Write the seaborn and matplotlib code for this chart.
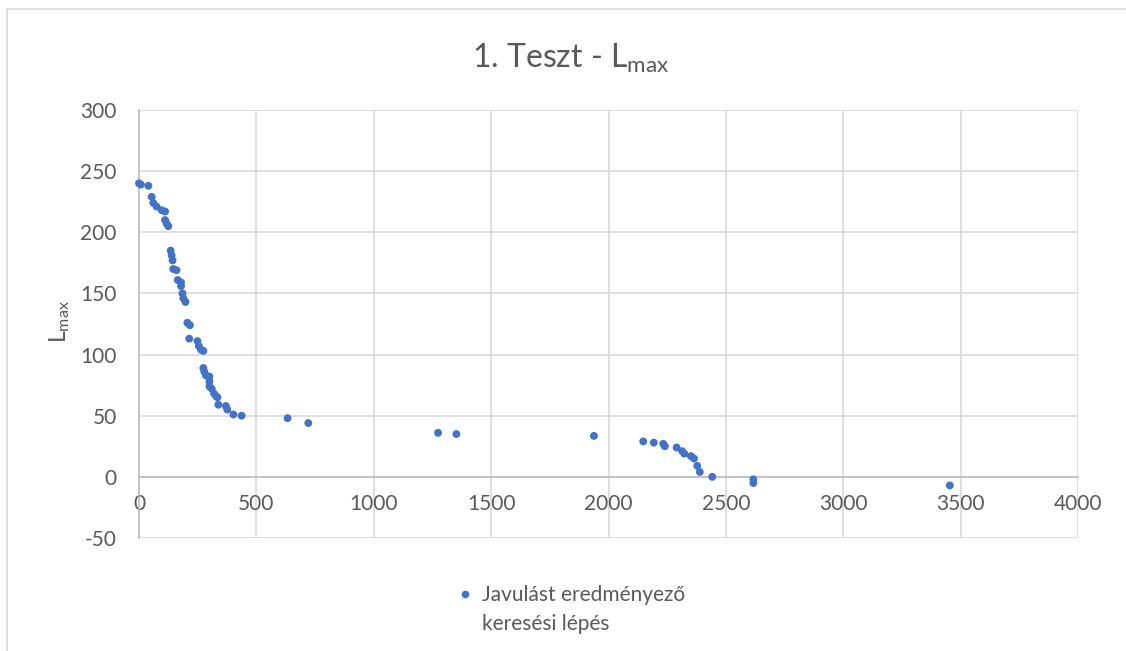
import matplotlib
matplotlib.use("Agg")
import matplotlib.pyplot as plt
import seaborn as sns
import pandas as pd
from matplotlib.lines import Line2D

# Search steps that improved L_max
steps = [0, 8, 40, 54, 61, 75, 97, 111, 111, 118, 125, 135, 139, 143, 146,
         160, 165, 179, 179, 185, 189, 198, 206, 217, 214, 249, 255, 264,
         274, 274, 278, 285, 300, 300, 300, 310, 320, 328, 334, 338, 370,
         376, 402, 437, 633, 721, 1274, 1352, 1938, 2148, 2193, 2233, 2240,
         2290, 2314, 2323, 2351, 2364, 2378, 2389, 2442, 2617, 2617, 3454]
lmax = [240, 239, 238, 229, 224, 221, 218, 217, 210, 207, 205, 185, 181, 177,
        170, 169, 161, 159, 156, 150, 146, 143, 126, 124, 113, 111, 107, 104,
        103, 89, 86, 83, 82, 78, 74, 72, 68, 66, 65, 59, 58, 55, 51, 50, 48,
        44, 36, 35, 33.5, 29, 28, 27, 25, 24, 21, 19, 17, 15, 9, 4, 0, -2,
        -5, -7]

x_ticks = list(range(0, 4001, 500))
y_ticks = list(range(-50, 301, 50))

title = "1. Teszt - L$_{max}$"
y_label = "L$_{max}$"
legend_lines = ["Javulást eredményező", "keresési lépés"]

df = pd.DataFrame({"step": steps, "lmax": lmax})

sns.set_style("white")
plt.rcParams["font.family"] = ["Lato", "DejaVu Sans"]
plt.rcParams["mathtext.default"] = "regular"
plt.rcParams["axes.unicode_minus"] = False

text_col = "#595959"
grid_col = "#d9d9d9"
axis_col = "#bfbfbf"
dot_col = "#4472C4"

fig = plt.figure(figsize=(11.26, 6.51), dpi=100)
ax = fig.add_axes([139 / 1126, 1 - 538 / 651, (1078 - 139) / 1126, (538 - 110) / 651])

sns.scatterplot(data=df, x="step", y="lmax", ax=ax, color=dot_col, s=32,
                edgecolor="none", legend=False, zorder=3, clip_on=False)

ax.set_xlim(0, 4000)
ax.set_ylim(-50, 300)
ax.set_xticks(x_ticks)
ax.set_yticks(y_ticks)
ax.grid(True, color=grid_col, linewidth=1.2)
ax.set_axisbelow(True)

for side in ["top", "right"]:
    ax.spines[side].set_visible(False)
ax.spines["bottom"].set_position(("data", 0))
ax.spines["bottom"].set_color(axis_col)
ax.spines["left"].set_color(axis_col)
ax.spines["bottom"].set_linewidth(1.2)
ax.spines["left"].set_linewidth(1.2)

ax.tick_params(axis="both", length=0, labelsize=15, colors=text_col)
ax.tick_params(axis="x", pad=12)
ax.tick_params(axis="y", pad=16)
ax.set_xlabel("")
ax.set_ylabel("")

fig.text(0.507, 1 - 68 / 651, title, ha="center", va="baseline",
         fontsize=23, color=text_col)
fig.text(60 / 1126, 1 - 322 / 651, y_label, ha="center", va="center",
         rotation=90, fontsize=16.5, color=text_col)

# legend: bullet on the first line only
handles = [
    Line2D([], [], marker="o", linestyle="none", color=dot_col, markersize=4.5),
    Line2D([], [], marker="none", linestyle="none"),
]
leg = fig.legend(handles, legend_lines, loc="upper left",
                 bbox_to_anchor=(448 / 1126, 1 - 577 / 651), frameon=False,
                 fontsize=15, handlelength=0.8, handletextpad=0.45,
                 labelspacing=0.4, borderaxespad=0)
for t in leg.get_texts():
    t.set_color(text_col)

# chart outer border (top and left edges are visible in the reference)
fig.add_artist(Line2D([7 / 1126, 7 / 1126], [0, 1 - 9 / 651],
                      transform=fig.transFigure, color=grid_col, linewidth=1.2))
fig.add_artist(Line2D([7 / 1126, 1], [1 - 9 / 651, 1 - 9 / 651],
                      transform=fig.transFigure, color=grid_col, linewidth=1.2))

fig.savefig("out.png", dpi=100)
plt.close(fig)
